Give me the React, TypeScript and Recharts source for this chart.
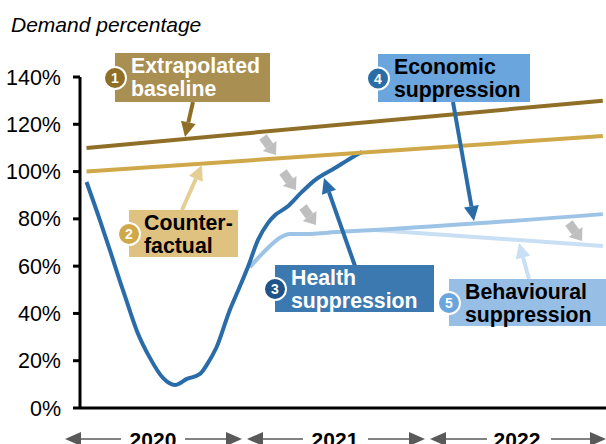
import { LineChart, Line, XAxis, YAxis } from 'recharts';

// x is months since Jan 2020
const baselineMonths = [1.62, 35.66];
const baselineValues = [110, 130];
const counterfactualMonths = [1.62, 35.66];
const counterfactualValues = [100, 115];
const healthMonths = [1.62, 2.5, 3.16, 3.82, 4.15, 4.94, 5.8, 6.66, 7.45, 8.24, 9.1, 9.62, 10.2, 11.07, 11.4, 12.26, 12.92, 13.58, 14.04, 14.83, 15.82, 16.68, 18, 19.18, 19.78];
const healthValues = [95.6, 79.5, 66.8, 53.7, 47.4, 32.6, 21.2, 12.7, 9.7, 12.3, 14.4, 19, 25.8, 41.5, 46.5, 59.6, 71, 78.2, 81.5, 85, 91.4, 96.4, 101.5, 106.2, 108.3];
const economicMonths = [12.39, 13.58, 14.37, 15.03, 16.02, 18.33, 20.63, 35.66];
const economicValues = [59.6, 67.7, 72, 73.6, 73.6, 74.5, 75.3, 82];
const behaviouralMonths = [20.63, 35.66];
const behaviouralValues = [75.3, 68.5];
const yearTicks = [6, 18, 30];
const yearLabels = ['2020', '2021', '2022'];
const yTicks = [0, 20, 40, 60, 80, 100, 120, 140];

const toRows = (months: number[], values: number[]) => months.map((m, i) => ({ m, v: values[i] }));

const FONT = '"Liberation Sans", Arial, sans-serif';

function Arrow({ x1, y1, x2, y2, color, width = 4, headW = 15, headL = 15 }: { x1: number; y1: number; x2: number; y2: number; color: string; width?: number; headW?: number; headL?: number }) {
  const len = Math.hypot(x2 - x1, y2 - y1);
  const ux = (x2 - x1) / len;
  const uy = (y2 - y1) / len;
  const bx = x2 - ux * headL;
  const by = y2 - uy * headL;
  const pts = `${x2},${y2} ${bx - uy * headW / 2},${by + ux * headW / 2} ${bx + uy * headW / 2},${by - ux * headW / 2}`;
  return (
    <g>
      <line x1={x1} y1={y1} x2={bx} y2={by} stroke={color} strokeWidth={width} />
      <polygon points={pts} fill={color} />
    </g>
  );
}

function Callout({ x, y, w, h, fill, dot, num, lines, textColor, tx }: { x: number; y: number; w: number; h: number; fill: string; dot: string; num: string; lines: string[]; textColor: string; tx: number }) {
  const cy = y + h / 2 + 0.5;
  return (
    <g fontFamily={FONT}>
      <rect x={x} y={y} width={w} height={h} fill={fill} />
      <circle cx={x} cy={cy} r={11} fill={dot} stroke="#fff" strokeWidth={2} />
      <text x={x} y={cy + 5} textAnchor="middle" fontSize={14} fontWeight="bold" fill="#fff">{num}</text>
      {lines.map((l, i) => (
        <text key={l} x={tx} y={y + 19.5 + i * 23.3} fontSize={21.3} fontWeight="bold" fill={textColor}>{l}</text>
      ))}
    </g>
  );
}

function YearBar({ left, right, textLeft, textRight }: { left: number; right: number; textLeft: number; textRight: number }) {
  const y = 439;
  const color = '#595959';
  return (
    <g>
      <line x1={left + 15} y1={y} x2={textLeft} y2={y} stroke={color} strokeWidth={1.5} />
      <line x1={textRight} y1={y} x2={right - 15} y2={y} stroke={color} strokeWidth={1.5} />
      <polygon points={`${left},${y} ${left + 16},${y - 7} ${left + 16},${y + 7}`} fill={color} />
      <polygon points={`${right},${y} ${right - 16},${y - 7} ${right - 16},${y + 7}`} fill={color} />
    </g>
  );
}

export default function App() {
  return (
    <div style={{ position: 'absolute', left: 0, top: 0, width: 606, height: 444, overflow: 'hidden', background: '#fff' }}>
      <LineChart width={606} height={444} margin={{ top: 77, right: 0, bottom: 0, left: 0 }}>
        <XAxis
          type="number"
          dataKey="m"
          domain={[1.19, 35.87]}
          allowDataOverflow
          ticks={yearTicks}
          tickFormatter={(v: number) => yearLabels[yearTicks.indexOf(v)]}
          tick={{ fill: '#000', fontSize: 21, fontWeight: 'bold', fontFamily: FONT, dy: 16 }}
          tickLine={false}
          axisLine={{ stroke: '#000', strokeWidth: 3 }}
          height={36}
          interval={0}
        />
        <YAxis
          type="number"
          domain={[0, 140]}
          ticks={yTicks}
          tickFormatter={(v: number) => `${v}%`}
          tick={{ fill: '#000', fontSize: 21.5, fontFamily: FONT }}
          tickSize={7}
          tickMargin={12}
          tickLine={{ stroke: '#000', strokeWidth: 3 }}
          axisLine={{ stroke: '#000', strokeWidth: 3 }}
          width={80}
          interval={0}
        />
        <Line data={toRows(behaviouralMonths, behaviouralValues)} dataKey="v" type="linear" stroke="#C9DFF3" strokeWidth={4} dot={false} isAnimationActive={false} />
        <Line data={toRows(economicMonths, economicValues)} dataKey="v" type="monotone" stroke="#9DC3E6" strokeWidth={4} dot={false} isAnimationActive={false} />
        <Line data={toRows(healthMonths, healthValues)} dataKey="v" type="monotone" stroke="#2A6CA8" strokeWidth={4} dot={false} isAnimationActive={false} />
        <Line data={toRows(counterfactualMonths, counterfactualValues)} dataKey="v" type="linear" stroke="#CFA849" strokeWidth={4} dot={false} isAnimationActive={false} />
        <Line data={toRows(baselineMonths, baselineValues)} dataKey="v" type="linear" stroke="#8F6F27" strokeWidth={4} dot={false} isAnimationActive={false} />
      </LineChart>

      <svg width={606} height={444} style={{ position: 'absolute', left: 0, top: 0 }}>
        <text x={11} y={32} fontFamily={FONT} fontSize={21} fontStyle="italic" fill="#000">Demand percentage</text>

        <Arrow x1={193} y1={102} x2={185} y2={137} color="#8F6F27" />
        <Arrow x1={182} y1={210} x2={202} y2={165} color="#E4CE94" />
        <Arrow x1={355} y1={266} x2={324} y2={178} color="#2A6CA8" />
        <Arrow x1={453} y1={102} x2={474} y2={221} color="#2A6CA8" />
        <Arrow x1={529} y1={279} x2={519} y2={243} color="#C9DFF3" />

        <Arrow x1={263} y1={137} x2={276} y2={155} color="#BFBFBF" width={9} headW={17} headL={11} />
        <Arrow x1={283} y1={172} x2={296} y2={190} color="#BFBFBF" width={9} headW={17} headL={11} />
        <Arrow x1={303} y1={207} x2={316} y2={225} color="#BFBFBF" width={9} headW={17} headL={11} />
        <Arrow x1={569} y1={223} x2={582} y2={241} color="#BFBFBF" width={9} headW={17} headL={11} />

        <Callout x={115} y={53} w={155} h={49} fill="#A98F52" dot="#8F6F27" num="1" lines={['Extrapolated', 'baseline']} textColor="#fff" tx={131} />
        <Callout x={129} y={210} w={109} h={47} fill="#DFC27F" dot="#CFA849" num="2" lines={['Counter-', 'factual']} textColor="#000" tx={144} />
        <Callout x={275} y={265} w={159} h={47} fill="#3D79B1" dot="#1F5488" num="3" lines={['Health', 'suppression']} textColor="#fff" tx={291} />
        <Callout x={378} y={54} w={152} h={48} fill="#6AA5DD" dot="#2A6CA8" num="4" lines={['Economic', 'suppression']} textColor="#000" tx={394} />
        <Callout x={449} y={279} w={157} h={47} fill="#97BFE6" dot="#6AA5DD" num="5" lines={['Behavioural', 'suppression']} textColor="#000" tx={465} />

        <YearBar left={65} right={242} textLeft={121} textRight={185} />
        <YearBar left={247} right={425} textLeft={303} textRight={368} />
        <YearBar left={430} right={606} textLeft={487} textRight={551} />
      </svg>
    </div>
  );
}
